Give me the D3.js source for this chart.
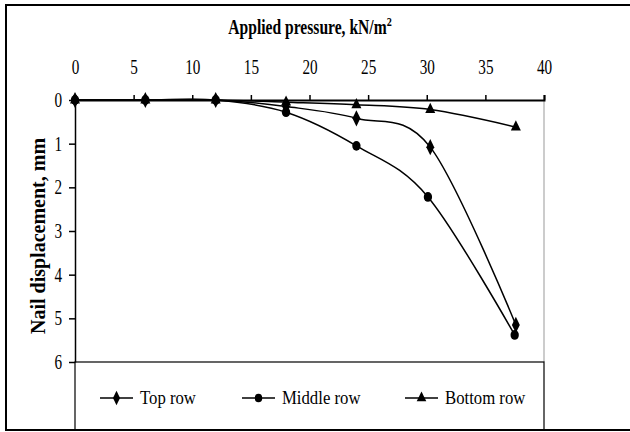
<!DOCTYPE html>
<html>
<head>
<meta charset="utf-8">
<script src="https://cdn.jsdelivr.net/npm/d3@7"></script>
<style>
  body { margin: 0; background: #fff; }
  svg { display: block; font-family: "Liberation Serif", "Times New Roman", serif; }
</style>
</head>
<body>
<script>
var width = 630,
    height = 432;

var margin = { top: 100, right: 86, bottom: 70, left: 75 };

// data
var seriesNames = ['Top row', 'Middle row', 'Bottom row'];
var topPressure = [0, 6, 12, 18, 24, 30.3, 37.6];
var topRow = [0, 0, 0, 0.15, 0.42, 1.08, 5.15];
var middlePressure = [0, 6, 12, 18, 24, 30.1, 37.5];
var middleRow = [0, 0, 0, 0.28, 1.05, 2.22, 5.38];
var bottomPressure = [0, 6, 12, 18, 24, 30.3, 37.6];
var bottomRow = [0, 0, 0, 0.05, 0.11, 0.22, 0.62];
var xTicks = [0, 5, 10, 15, 20, 25, 30, 35, 40];
var yTicks = [0, 1, 2, 3, 4, 5, 6];

var series = [
  { name: seriesNames[0], x: topPressure, y: topRow, symbol: d3.symbolDiamond },
  { name: seriesNames[1], x: middlePressure, y: middleRow, symbol: d3.symbolCircle },
  { name: seriesNames[2], x: bottomPressure, y: bottomRow, symbol: d3.symbolTriangle }
];

var plotW = 544 - margin.left,
    plotH = 362 - margin.top;

var svg = d3.select('body')
  .append('svg')
  .attr('width', width)
  .attr('height', height);

// squeeze text horizontally like the original picture
function squeeze(sel, k) {
  sel.each(function() {
    var w = this.getComputedTextLength();
    d3.select(this)
      .attr('textLength', w * k)
      .attr('lengthAdjust', 'spacingAndGlyphs');
  });
}

// outer frame
svg.append('rect')
  .attr('x', 6)
  .attr('y', 5)
  .attr('width', 640)
  .attr('height', 425)
  .attr('fill', 'none')
  .attr('stroke', '#000')
  .attr('stroke-width', 2);

var xScale = d3.scaleLinear()
  .domain([0, 40])
  .range([margin.left, margin.left + plotW]);

var yScale = d3.scaleLinear()
  .domain([0, 6])
  .range([margin.top, margin.top + plotH]);

// right border of plot area
svg.append('line')
  .attr('x1', xScale(40))
  .attr('x2', xScale(40))
  .attr('y1', yScale(0))
  .attr('y2', yScale(6))
  .attr('stroke', '#999')
  .attr('stroke-width', 1);

// legend box
var legY = yScale(6);
svg.append('rect')
  .attr('x', xScale(0))
  .attr('y', legY)
  .attr('width', plotW)
  .attr('height', 430 - legY)
  .attr('fill', 'none')
  .attr('stroke', '#000')
  .attr('stroke-width', 1.2);

var line = d3.line()
  .x(function(d) { return xScale(d[0]); })
  .y(function(d) { return yScale(d[1]); })
  .curve(d3.curveCardinal.tension(0));

series.forEach(function(s) {
  var pts = s.x.map(function(v, i) { return [v, s.y[i]]; });
  svg.append('path')
    .datum(pts)
    .attr('d', line)
    .attr('fill', 'none')
    .attr('stroke', '#000')
    .attr('stroke-width', 1.5);
});

series.forEach(function(s) {
  var pts = s.x.map(function(v, i) { return [v, s.y[i]]; });
  svg.selectAll(null)
    .data(pts)
    .enter()
    .append('path')
    .attr('d', d3.symbol().type(s.symbol).size(s.symbol === d3.symbolTriangle ? 60 : 75))
    .attr('transform', function(d) {
      return 'translate(' + xScale(d[0]) + ',' + yScale(d[1]) + ') scale(0.85,1)';
    })
    .attr('fill', '#000');
});

var xAxis = d3.axisTop(xScale)
  .tickValues(xTicks)
  .tickSize(5)
  .tickPadding(21)
  .tickFormat(d3.format('d'));

var yAxis = d3.axisLeft(yScale)
  .tickValues(yTicks)
  .tickSize(6)
  .tickSizeOuter(0)
  .tickPadding(7)
  .tickFormat(d3.format('d'));

var gx = svg.append('g')
  .attr('transform', 'translate(0,' + yScale(0) + ')')
  .call(xAxis);

var gy = svg.append('g')
  .attr('transform', 'translate(' + xScale(0) + ',0)')
  .call(yAxis);

[gx, gy].forEach(function(g) {
  g.selectAll('path, line').attr('stroke', '#000').attr('stroke-width', 1.5);
  g.selectAll('text')
    .attr('fill', '#000')
    .style('font-family', '"Liberation Serif", serif')
    .style('font-size', '20px');
  squeeze(g.selectAll('text'), 0.76);
});
gx.select('.domain').attr('stroke-width', 2);

// title
var title = svg.append('text')
  .attr('transform', 'translate(310,34) scale(0.78,1)')
  .attr('text-anchor', 'middle')
  .style('font-size', '20px')
  .style('font-weight', 'bold');
title.append('tspan').text('Applied pressure, kN/m');
title.append('tspan')
  .attr('dy', -8)
  .style('font-size', '13px')
  .text('2');

// y label
svg.append('text')
  .attr('transform', 'translate(45,236) rotate(-90)')
  .attr('text-anchor', 'middle')
  .style('font-size', '20px')
  .style('font-weight', 'bold')
  .text('Nail displacement, mm');

// legend
var legendX = [100, 242, 405];
var legMid = 398;
series.forEach(function(s, i) {
  var lx = legendX[i];
  svg.append('line')
    .attr('x1', lx)
    .attr('x2', lx + 33)
    .attr('y1', legMid)
    .attr('y2', legMid)
    .attr('stroke', '#000')
    .attr('stroke-width', 1.5);
  svg.append('path')
    .attr('d', d3.symbol().type(s.symbol).size(s.symbol === d3.symbolTriangle ? 55 : 60))
    .attr('transform', 'translate(' + (lx + 16.5) + ',' + legMid + ') scale(0.85,1)')
    .attr('fill', '#000');
  var t = svg.append('text')
    .attr('x', lx + 40)
    .attr('y', legMid + 6)
    .style('font-size', '19px')
    .text(s.name);
  squeeze(t, 0.88);
});
</script>
</body>
</html>
